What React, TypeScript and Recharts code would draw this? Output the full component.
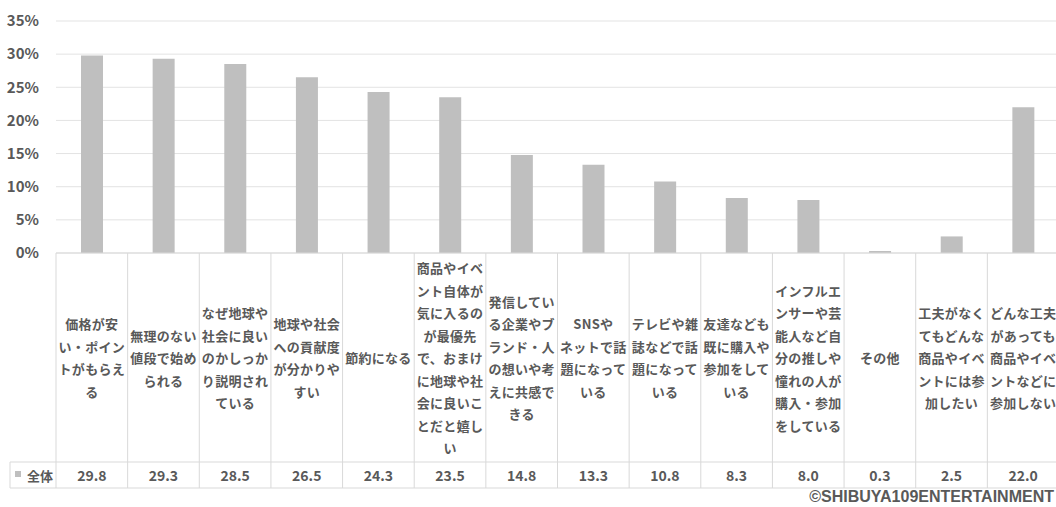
import React from "react";
import { BarChart, Bar, XAxis, YAxis, CartesianGrid } from "recharts";

// category labels, line breaks as wrapped in the source table
const categories = [
  "価格が安\nい・ポイン\nトがもらえ\nる",
  "無理のない\n値段で始め\nられる",
  "なぜ地球や\n社会に良い\nのかしっか\nり説明され\nている",
  "地球や社会\nへの貢献度\nが分かりや\nすい",
  "節約になる",
  "商品やイベ\nント自体が\n気に入るの\nが最優先\nで、おまけ\nに地球や社\n会に良いこ\nとだと嬉し\nい",
  "発信してい\nる企業やブ\nランド・人\nの想いや考\nえに共感で\nきる",
  "SNSや\nネットで話\n題になって\nいる",
  "テレビや雑\n誌などで話\n題になって\nいる",
  "友達なども\n既に購入や\n参加をして\nいる",
  "インフルエ\nンサーや芸\n能人など自\n分の推しや\n憧れの人が\n購入・参加\nをしている",
  "その他",
  "工夫がなく\nてもどんな\n商品やイベ\nントには参\n加したい",
  "どんな工夫\nがあっても\n商品やイベ\nントなどに\n参加しない",
];
const values = [29.8, 29.3, 28.5, 26.5, 24.3, 23.5, 14.8, 13.3, 10.8, 8.3, 8.0, 0.3, 2.5, 22.0];
const yTicks = [0, 5, 10, 15, 20, 25, 30, 35];
const seriesName = "全体";
const credit = "©SHIBUYA109ENTERTAINMENT";

const data = categories.map((name, i) => ({ name, value: values[i] }));

const W = 1059;
const H = 507;
const MARGIN = { top: 21, right: 0, bottom: 19, left: 0 };
const Y_W = 56;
const X_H = 235;
const LABEL_H = 209;
const PLOT_W = W - MARGIN.left - MARGIN.right - Y_W;
const BAND = PLOT_W / categories.length;

const FONT = '"Noto Sans CJK JP", "Noto Sans", sans-serif';
const TEXT = "#595959";
const LINE = "#d9d9d9";
const BAR = "#bfbfbf";

function TableTick(props: any) {
  const { x, y, payload, index } = props;
  const lines = String(payload.value).split("\n");
  const lh = 22.5;
  const top = y;
  const startY = top + LABEL_H / 2 - ((lines.length - 1) * lh) / 2;
  const left = x - BAND / 2;
  const right = x + BAND / 2;
  const rowTop = top + LABEL_H;
  const rowBot = top + X_H;
  const rowMid = (rowTop + rowBot) / 2;
  const txt = { fontFamily: FONT, fontWeight: 700, fill: TEXT };

  return (
    <g>
      <line x1={left} x2={left} y1={top} y2={rowBot} stroke={LINE} />
      {index === categories.length - 1 && (
        <line x1={right} x2={right} y1={top} y2={rowBot} stroke={LINE} />
      )}
      {index === 0 && (
        <g>
          <line x1={10} x2={left + PLOT_W} y1={rowTop} y2={rowTop} stroke={LINE} />
          <line x1={10} x2={left + PLOT_W} y1={rowBot} y2={rowBot} stroke={LINE} />
          <line x1={10} x2={10} y1={rowTop} y2={rowBot} stroke={LINE} />
          <rect x={15} y={rowMid - 4} width={6} height={6} fill={BAR} />
          <text x={27} y={rowMid} dominantBaseline="central" fontSize={13} {...txt}>
            {seriesName}
          </text>
        </g>
      )}
      {lines.map((l, i) => (
        <text
          key={i}
          x={x}
          y={startY + i * lh}
          textAnchor="middle"
          dominantBaseline="central"
          fontSize={13}
          letterSpacing={0.3}
          {...txt}
        >
          {l}
        </text>
      ))}
      <text x={x} y={rowMid} textAnchor="middle" dominantBaseline="central" fontSize={14} {...txt}>
        {values[index].toFixed(1)}
      </text>
    </g>
  );
}

export default function App() {
  return (
    <div
      style={{
        position: "absolute",
        left: 0,
        top: 0,
        width: 1056,
        height: H,
        overflow: "hidden",
        background: "#fff",
      }}
    >
      <BarChart width={W} height={H} data={data} margin={MARGIN}>
        <CartesianGrid vertical={false} stroke="#e3e3e3" />
        <XAxis
          dataKey="name"
          height={X_H}
          interval={0}
          tickSize={0}
          tickMargin={0}
          tickLine={false}
          axisLine={{ stroke: LINE }}
          tick={<TableTick />}
        />
        <YAxis
          width={Y_W}
          domain={[0, 35]}
          ticks={yTicks}
          tickFormatter={(v) => `${v}%`}
          axisLine={false}
          tickLine={false}
          tickSize={0}
          tickMargin={17}
          tick={{ fontFamily: FONT, fontWeight: 700, fontSize: 15, fill: TEXT }}
        />
        <Bar dataKey="value" fill={BAR} barSize={22} isAnimationActive={false} />
      </BarChart>
      <div
        style={{
          position: "absolute",
          right: 2,
          top: 489,
          fontFamily: '"Liberation Sans", Arial, sans-serif',
          fontWeight: 700,
          fontSize: 16,
          lineHeight: "16px",
          color: TEXT,
          whiteSpace: "nowrap",
        }}
      >
        {credit}
      </div>
    </div>
  );
}
